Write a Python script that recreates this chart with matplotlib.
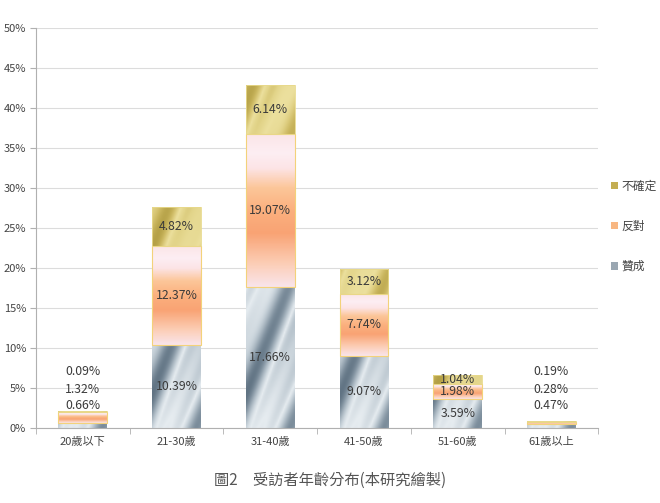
import matplotlib
matplotlib.use("Agg")
import matplotlib.pyplot as plt
import numpy as np
from matplotlib.colors import LinearSegmentedColormap
from matplotlib.patches import Patch

plt.rcParams['font.family'] = ['Noto Sans CJK TC', 'DejaVu Sans']

categories = ["20歲以下", "21-30歲", "31-40歲", "41-50歲", "51-60歲", "61歲以上"]
agree    = [0.66, 10.39, 17.66, 9.07, 3.59, 0.47]   # 贊成
oppose   = [1.32, 12.37, 19.07, 7.74, 1.98, 0.28]   # 反對
unsure   = [0.09, 4.82, 6.14, 3.12, 1.04, 0.19]     # 不確定
series_names = ["贊成", "反對", "不確定"]

# small bars get their labels stacked above instead of inside
outside = [0, 5]
outside_y = [2.8, 4.85, 7.05]   # label heights (%) for 贊成, 反對, 不確定

cm_metal = LinearSegmentedColormap.from_list(
    "metal", ["#5f7282", "#7f909e", "#a2b0bb", "#c3ced6", "#e6ecf0", "#b0bdc7", "#7e8f9d"])
cm_orange = LinearSegmentedColormap.from_list(
    "orange", [(0.0, "#fbe6e8"), (0.12, "#fdeef3"), (0.22, "#fce4e6"), (0.35, "#fcc699"),
               (0.5, "#fbb07e"), (0.65, "#f9a374"), (0.85, "#fcceb6"), (1.0, "#f9e4ea")])
cm_gold = LinearSegmentedColormap.from_list(
    "gold", ["#b19d43", "#c8b45c", "#dccb7c", "#ece09e", "#e2d489", "#c5b059"])


def gradient_fill(ax, bar, kind):
    x0, y0 = bar.get_x(), bar.get_y()
    w, h = bar.get_width(), bar.get_height()
    if h <= 0:
        return
    ny, nx = 160, 40
    yy, xx = np.mgrid[0:1:ny * 1j, 0:1:nx * 1j]
    hpx = h * 8.0
    if kind == "orange":
        img = cm_orange(yy)
    else:
        # diagonal streaks in pixel space, rising to the right
        px = xx * 48
        py = (1 - yy) * hpx + y0 * 8.0
        t = (px - py * 0.4) / 60.0
        val = 0.5 + 0.3 * np.sin(2 * np.pi * t) + 0.12 * np.sin(2 * np.pi * 2.1 * t + 1.3)
        val = val + 0.15 * (xx - 0.5)
        val = np.clip(val, 0, 1)
        img = (cm_metal if kind == "metal" else cm_gold)(val)
    im = ax.imshow(img, extent=[x0, x0 + w, y0, y0 + h], origin="upper",
                   aspect="auto", interpolation="bilinear", zorder=2)
    im.set_clip_path(bar)


fig = plt.figure(figsize=(6.6, 5.03), dpi=100)
ax = fig.add_axes([0.0545, 0.149, 0.852, 0.795])

x = np.arange(len(categories))
width = 0.52
agree_a = np.array(agree)
oppose_a = np.array(oppose)
unsure_a = np.array(unsure)

b1 = ax.bar(x, agree_a, width, color="none", edgecolor="none", zorder=3)
b2 = ax.bar(x, oppose_a, width, bottom=agree_a, color="none",
            edgecolor="#f3d27a", linewidth=0.8, zorder=3)
b3 = ax.bar(x, unsure_a, width, bottom=agree_a + oppose_a, color="none",
            edgecolor="#e8d98a", linewidth=0.6, zorder=3)

for bar in b1:
    gradient_fill(ax, bar, "metal")
for bar in b2:
    gradient_fill(ax, bar, "orange")
for bar in b3:
    gradient_fill(ax, bar, "gold")

ax.set_xlim(-0.5, len(categories) - 0.5)
ax.set_ylim(0, 50)
ax.set_yticks(np.arange(0, 51, 5))
ax.set_yticklabels([f"{v}%" for v in range(0, 51, 5)], fontsize=8, color="#444444")
ax.set_xticks(x)
ax.set_xticklabels(categories, fontsize=8, color="#444444")
ax.set_xticks(np.arange(-0.5, len(categories), 1), minor=True)
ax.tick_params(axis="x", which="major", length=0, pad=6)
ax.tick_params(axis="x", which="minor", length=4, color="#b0b0b0")
ax.tick_params(axis="y", length=4, color="#b0b0b0", pad=3)
ax.yaxis.grid(True, color="#dcdcdc", linewidth=0.8, zorder=0)
ax.set_axisbelow(True)
for s in ["top", "right"]:
    ax.spines[s].set_visible(False)
ax.spines["left"].set_color("#b0b0b0")
ax.spines["bottom"].set_color("#b0b0b0")

lab_kw = dict(ha="center", va="center", fontsize=8.8, color="#3a3a3a", zorder=5)
for i in range(len(categories)):
    vals = [agree[i], oppose[i], unsure[i]]
    if i in outside:
        for v, yl in zip(vals, outside_y):
            ax.text(x[i], yl, f"{v:.2f}%", **lab_kw)
    else:
        ax.text(x[i], agree[i] / 2, f"{agree[i]:.2f}%", **lab_kw)
        ax.text(x[i], agree[i] + oppose[i] / 2, f"{oppose[i]:.2f}%", **lab_kw)
        ax.text(x[i], agree[i] + oppose[i] + unsure[i] / 2, f"{unsure[i]:.2f}%", **lab_kw)

handles = [Patch(facecolor="#c4ae52", edgecolor="none", label=series_names[2]),
           Patch(facecolor="#f8b782", edgecolor="none", label=series_names[1]),
           Patch(facecolor="#9aa7b2", edgecolor="none", label=series_names[0])]
fig.legend(handles=handles, loc="center left", bbox_to_anchor=(0.922, 0.55),
           frameon=False, fontsize=8.5, handlelength=0.6, handleheight=0.6,
           handletextpad=0.3, labelspacing=2.3, labelcolor="#444444",
           borderaxespad=0, borderpad=0.2)

fig.text(0.5, 0.045, "圖2　受訪者年齡分布(本研究繪製)", ha="center", va="center",
         fontsize=11, color="#555555")

fig.savefig("out.png", dpi=100)
